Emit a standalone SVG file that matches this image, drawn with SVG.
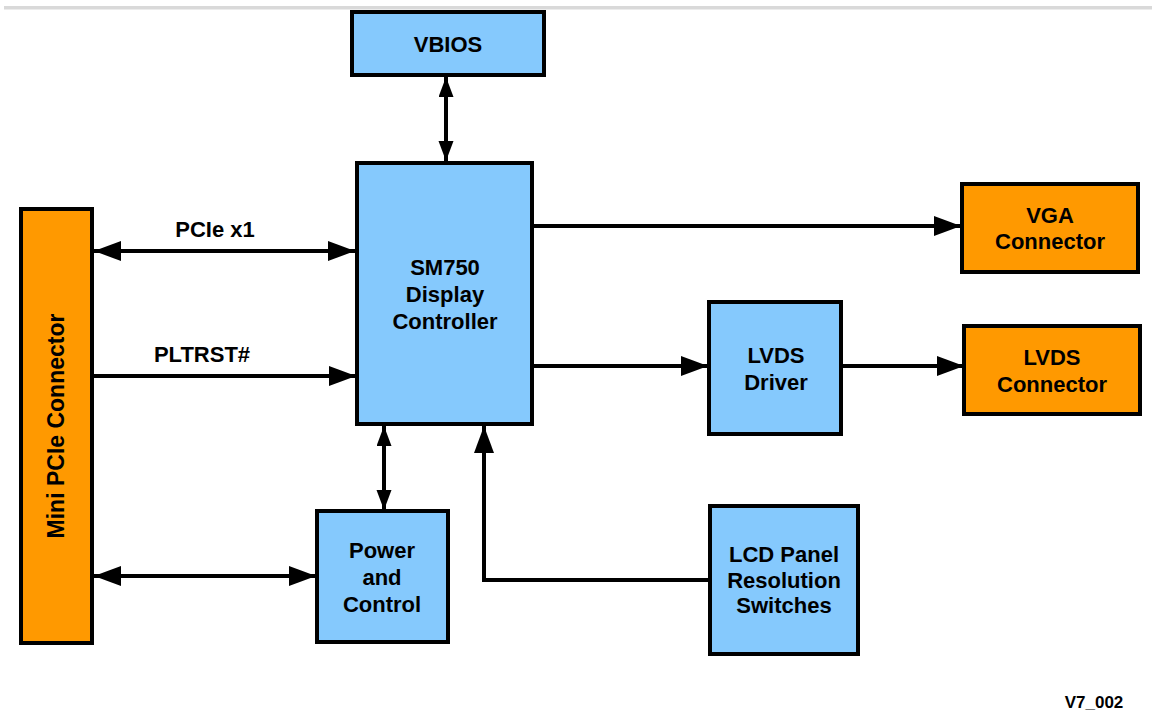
<svg xmlns="http://www.w3.org/2000/svg" width="1152" height="719" viewBox="0 0 1152 719">
<style>
.blue{fill:#85c9fd;stroke:#000;stroke-width:4}
.orange{fill:#ff9900;stroke:#000;stroke-width:4}
.t{font-family:"Liberation Sans",Arial,sans-serif;font-weight:bold;font-size:22px;fill:#000;text-anchor:middle}
.w{stroke:#000;stroke-width:4;fill:none}
</style>
<defs>
<marker id="ah" markerUnits="userSpaceOnUse" markerWidth="28" markerHeight="21" refX="27" refY="10" orient="auto-start-reverse">
<path d="M0,0 L27,10 L0,20 z" fill="#000"/>
</marker>
<marker id="av" markerUnits="userSpaceOnUse" markerWidth="21" markerHeight="16" refX="20" refY="7.5" orient="auto-start-reverse">
<path d="M0,0 L20,7.5 L0,15 z" fill="#000"/>
</marker>
</defs>
<rect x="4" y="6" width="1148" height="3.5" fill="#d9d9d9"/>
<g id="connectors">
<line class="w" x1="446" y1="77" x2="446" y2="161" marker-start="url(#av)" marker-end="url(#av)"/>
<line class="w" x1="94" y1="251" x2="355" y2="251" marker-start="url(#ah)" marker-end="url(#ah)"/>
<line class="w" x1="94" y1="376" x2="356" y2="376" marker-end="url(#ah)"/>
<line class="w" x1="534" y1="226" x2="961" y2="226" marker-end="url(#ah)"/>
<line class="w" x1="534" y1="366" x2="708" y2="366" marker-end="url(#ah)"/>
<line class="w" x1="842" y1="366" x2="964" y2="366" marker-end="url(#ah)"/>
<line class="w" x1="384" y1="426" x2="384" y2="510" marker-start="url(#av)" marker-end="url(#av)"/>
<line class="w" x1="94" y1="576" x2="316" y2="576" marker-start="url(#ah)" marker-end="url(#ah)"/>
<polyline class="w" points="709,580 484,580 484,426" marker-end="url(#ah)"/>
<text class="t" x="215" y="237">PCIe x1</text>
<text class="t" x="202" y="362">PLTRST#</text>
</g>
<g id="vbios">
<rect class="blue" x="352" y="12" width="192" height="63"/>
<text class="t" x="448" y="52">VBIOS</text>
</g>
<g id="sm750">
<rect class="blue" x="357" y="163" width="175" height="261"/>
<text class="t" x="445" y="275">SM750</text>
<text class="t" x="445" y="302">Display</text>
<text class="t" x="445" y="329">Controller</text>
</g>
<g id="minipcie">
<rect class="orange" x="21" y="209" width="71" height="434"/>
<text class="t" transform="translate(64,426) rotate(-90)" style="font-size:23px">Mini PCIe Connector</text>
</g>
<g id="vga">
<rect class="orange" x="962" y="184" width="176" height="88"/>
<text class="t" x="1050" y="223">VGA</text>
<text class="t" x="1050" y="249">Connector</text>
</g>
<g id="lvdsdriver">
<rect class="blue" x="709" y="302" width="132" height="132"/>
<text class="t" x="776" y="363">LVDS</text>
<text class="t" x="776" y="390">Driver</text>
</g>
<g id="lvdsconn">
<rect class="orange" x="964" y="326" width="176" height="88"/>
<text class="t" x="1052" y="365">LVDS</text>
<text class="t" x="1052" y="392">Connector</text>
</g>
<g id="power">
<rect class="blue" x="317" y="511" width="131" height="131"/>
<text class="t" x="382" y="558">Power</text>
<text class="t" x="382" y="585">and</text>
<text class="t" x="382" y="612">Control</text>
</g>
<g id="lcd">
<rect class="blue" x="710" y="506" width="148" height="148"/>
<text class="t" x="784" y="562">LCD Panel</text>
<text class="t" x="784" y="588">Resolution</text>
<text class="t" x="784" y="613">Switches</text>
</g>
<text class="t" x="1094" y="708" style="font-size:17px">V7_002</text>
</svg>
